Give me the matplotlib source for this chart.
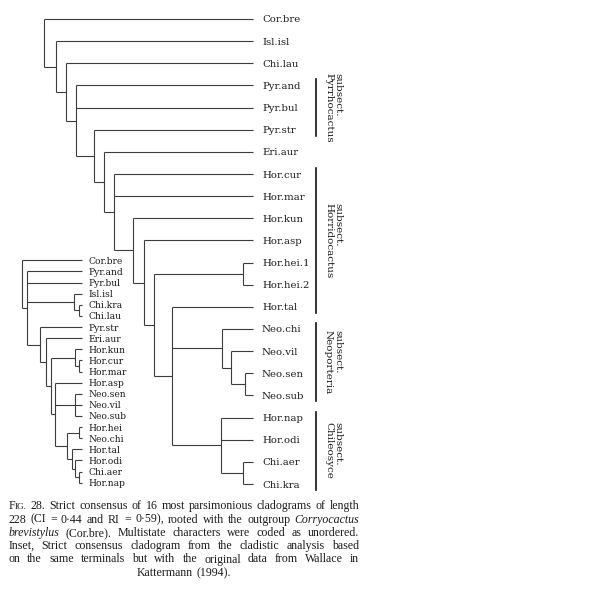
#!/usr/bin/env python3
"Strict consensus cladogram with inset tree and justified caption."

import matplotlib
matplotlib.use("Agg")
import matplotlib.pyplot as plt
from matplotlib.transforms import offset_copy, IdentityTransform

W, H = 612, 600

# main tree: terminals top to bottom and the internal node each hangs from
main_leaves = ["Cor.bre", "Isl.isl", "Chi.lau", "Pyr.and", "Pyr.bul", "Pyr.str",
               "Eri.aur", "Hor.cur", "Hor.mar", "Hor.kun", "Hor.asp", "Hor.hei.1",
               "Hor.hei.2", "Hor.tal", "Neo.chi", "Neo.vil", "Neo.sen", "Neo.sub",
               "Hor.nap", "Hor.odi", "Chi.aer", "Chi.kra"]
main_leaf_parent = [0, 1, 2, 3, 3, 4, 5, 6, 6, 7, 8, 10, 10, 11, 12, 13, 14, 14, 15, 15, 16, 16]
# internal nodes: parent node and depth (% of root-to-tip width)
main_node_parent = [None, 0, 1, 2, 3, 4, 5, 6, 7, 8, 9, 9, 11, 12, 13, 11, 15]
main_node_depth = [0, 5.4, 10.4, 15.3, 23.9, 28.8, 33.6, 42.5, 47.8, 52.6,
                   95.4, 61.0, 85.0, 89.5, 96.2, 84.5, 95.4]

# subsections marked with a bar on the right
group_names = ["Pyrrhocactus", "Horridocactus", "Neoporteria", "Chileosyce"]
group_first = ["Pyr.and", "Hor.cur", "Neo.chi", "Hor.nap"]
group_last = ["Pyr.str", "Hor.tal", "Neo.sub", "Chi.kra"]

# inset tree (Wallace's data)
inset_leaves = ["Cor.bre", "Pyr.and", "Pyr.bul", "Isl.isl", "Chi.kra", "Chi.lau",
                "Pyr.str", "Eri.aur", "Hor.kun", "Hor.cur", "Hor.mar", "Hor.asp",
                "Neo.sen", "Neo.vil", "Neo.sub", "Hor.hei", "Neo.chi", "Hor.tal",
                "Hor.odi", "Chi.aer", "Hor.nap"]
inset_leaf_parent = [0, 1, 1, 2, 3, 3, 4, 5, 7, 8, 8, 9, 10, 10, 10, 12, 12, 13, 14, 15, 15]
inset_node_parent = [None, 0, 1, 2, 1, 4, 5, 6, 7, 6, 9, 9, 11, 11, 13, 14]
inset_node_depth = [0, 9.3, 87.7, 95.5, 31.0, 39.7, 48.0, 88.8, 95.5, 56.0,
                    88.8, 76.0, 95.5, 84.3, 88.8, 95.5]

caption_lines = [
    "FIG. 28. Strict consensus of 16 most parsimonious cladograms of length",
    "228 (CI = 0·44 and RI = 0·59), rooted with the outgroup _Corryocactus_",
    "_brevistylus_ (Cor.bre). Multistate characters were coded as unordered.",
    "Inset, Strict consensus cladogram from the cladistic analysis based",
    "on the same terminals but with the original data from Wallace in",
    "Kattermann (1994).",
]

LINE = "#3c3c3c"
INK = "#1c1c1c"

fig = plt.figure(figsize=(W / 100, H / 100), dpi=100)
fig.patch.set_facecolor("white")


def draw_tree(ax, leaves, leaf_parent, node_parent, node_depth, fontsize, pad):
    n = len(node_depth)
    kids = [[] for _ in range(n)]
    for i, p in enumerate(leaf_parent):
        kids[p].append(("leaf", i))
    for j, p in enumerate(node_parent):
        if p is not None:
            kids[p].append(("node", j))
    node_y = [None] * n

    def pos(kind, i):
        if kind == "leaf":
            return i, 100.0
        if node_y[i] is None:
            ys = [pos(*k)[0] for k in kids[i]]
            node_y[i] = (min(ys) + max(ys)) / 2
        return node_y[i], node_depth[i]

    pos("node", 0)
    for i in range(n):
        ys = [pos(*k)[0] for k in kids[i]]
        d = node_depth[i]
        ax.plot([d, d], [min(ys), max(ys)], color=LINE, lw=0.8,
                solid_capstyle="butt", clip_on=False)
        for k in kids[i]:
            y, dk = pos(*k)
            ax.plot([d, dk], [y, y], color=LINE, lw=0.8,
                    solid_capstyle="butt", clip_on=False)
    tr = offset_copy(ax.transData, fig=fig, x=pad, y=0, units="dots")
    for i, name in enumerate(leaves):
        ax.text(100, i, name, transform=tr, ha="left", va="center_baseline",
                fontsize=fontsize, family="DejaVu Serif", color=INK)


# main tree: root at x=44 px, tips at x=253 px, rows from y=19 to y=484 px
ax = fig.add_axes([44.3 / W, 1 - 484 / H, (253 - 44.3) / W, (484 - 19) / H])
ax.set_xlim(0, 100)
ax.set_ylim(len(main_leaves) - 1, 0)
ax.axis("off")
draw_tree(ax, main_leaves, main_leaf_parent, main_node_parent, main_node_depth, 7.3, 9)

bar_tr = offset_copy(ax.transData, fig=fig, x=63, y=0, units="dots")
txt_tr = offset_copy(ax.transData, fig=fig, x=80, y=0, units="dots")
for name, a, b in zip(group_names, group_first, group_last):
    ia, ib = main_leaves.index(a), main_leaves.index(b)
    ax.plot([100, 100], [ia - 0.27, ib + 0.27], color="#111111", lw=1.2,
            transform=bar_tr, clip_on=False)
    ax.text(100, (ia + ib) / 2, "subsect.\n" + name, transform=txt_tr,
            rotation=-90, ha="center", va="center", multialignment="left",
            linespacing=1.0, fontsize=7.5, family="DejaVu Serif", color=INK)

# inset tree
axi = fig.add_axes([21.7 / W, 1 - 482.7 / H, (81.7 - 21.7) / W, (482.7 - 260.3) / H])
axi.set_xlim(0, 100)
axi.set_ylim(len(inset_leaves) - 1, 0)
axi.axis("off")
draw_tree(axi, inset_leaves, inset_leaf_parent, inset_node_parent, inset_node_depth, 6.6, 7)

# caption, justified between x0 and x1
renderer = fig.canvas.get_renderer()
cap_size = 8.6
x0, x1 = 8.3, 359.3
baselines = [509.3, 522.6, 535.9, 549.2, 562.5, 575.8]


def word_segments(w):
    if w == "FIG.":
        return [("F", "normal", 1.0), ("IG.", "normal", 0.78)]
    if w.startswith("_") and w.endswith("_"):
        return [(w.strip("_"), "italic", 1.0)]
    return [(w, "normal", 1.0)]


for k, (line, yb) in enumerate(zip(caption_lines, baselines)):
    words = line.split(" ")
    placed = []
    for w in words:
        segs = []
        for s, style, scale in word_segments(w):
            t = fig.text(0, 0, s, transform=IdentityTransform(), fontsize=cap_size * scale,
                         fontstyle=style, family="Liberation Serif", color=INK,
                         ha="left", va="baseline")
            segs.append((t, t.get_window_extent(renderer).width))
        placed.append(segs)
    widths = [sum(wd for _, wd in segs) for segs in placed]
    last = k == len(caption_lines) - 1
    if last:
        gap = 0.25 * cap_size * 100 / 72
        total = sum(widths) + gap * (len(widths) - 1)
        x = (x0 + x1) / 2 - total / 2
    else:
        gap = (x1 - x0 - sum(widths)) / max(len(widths) - 1, 1)
        x = x0
    for segs, wd in zip(placed, widths):
        xs = x
        for t, sw in segs:
            t.set_position((xs, H - yb))
            xs += sw
        x += wd + gap

fig.savefig("out.png", dpi=100, facecolor="white")
